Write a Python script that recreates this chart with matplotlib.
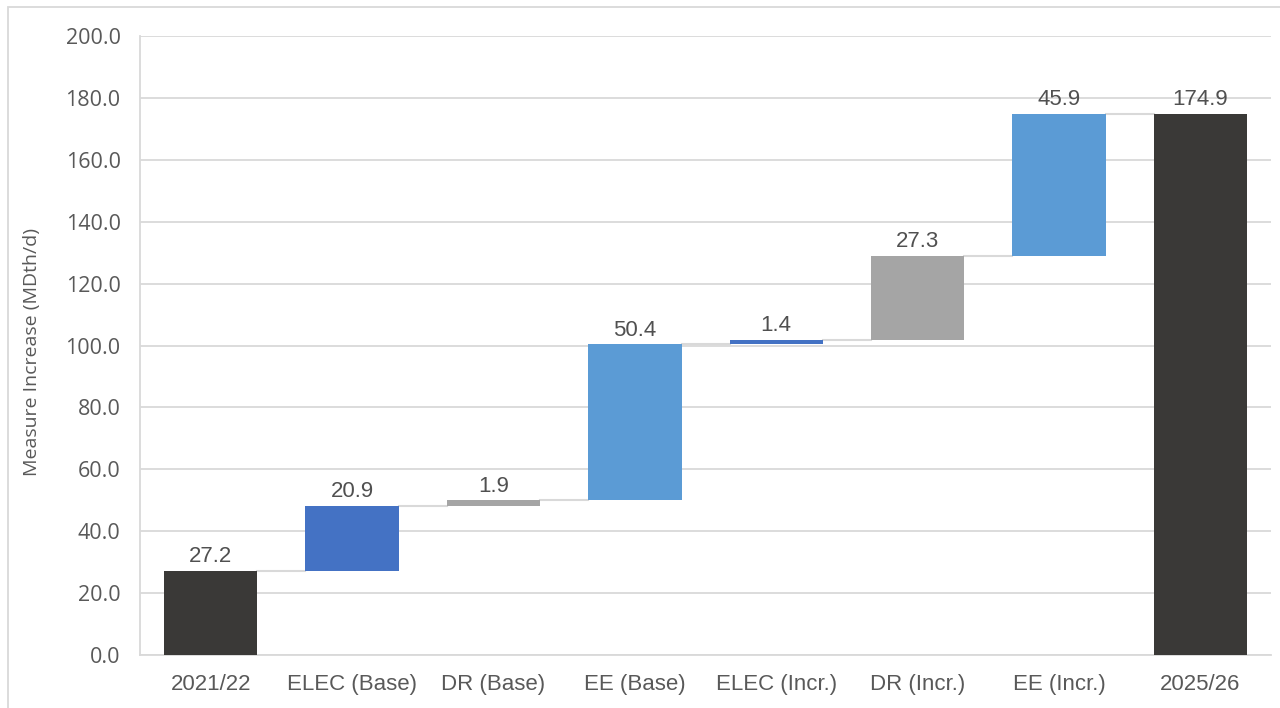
import numpy as np
import matplotlib
matplotlib.use("Agg")
import matplotlib.pyplot as plt
from matplotlib.patches import Rectangle

# waterfall steps: first and last are totals, the rest are increments
categories = ["2021/22", "ELEC (Base)", "DR (Base)", "EE (Base)",
              "ELEC (Incr.)", "DR (Incr.)", "EE (Incr.)", "2025/26"]
values = [27.2, 20.9, 1.9, 50.4, 1.4, 27.3, 45.9, 174.9]
is_total = [True, False, False, False, False, False, False, True]
colors = ["#3A3937", "#4472C4", "#A5A5A5", "#5B9BD5",
          "#4472C4", "#A5A5A5", "#5B9BD5", "#3A3937"]

yticks = np.arange(0, 201, 20)

fig = plt.figure(figsize=(12.8, 7.08), dpi=100)
ax = fig.add_axes([0.1094, 0.0749, 0.8836, 0.874])

# bottoms and tops of each bar
bottoms = []
tops = []
running = 0.0
for v, tot in zip(values, is_total):
    if tot:
        bottoms.append(0.0)
        tops.append(v)
        running = v
    else:
        bottoms.append(running)
        running += v
        tops.append(running)

x = np.arange(len(categories))
width = 0.66
ax.bar(x, np.array(tops) - np.array(bottoms), bottom=bottoms, width=width,
       color=colors, zorder=3)

# connectors between neighbouring bars
for i in range(len(x) - 1):
    ax.plot([x[i] + width / 2, x[i + 1] - width / 2], [tops[i], tops[i]],
            color="#D9D9D9", lw=1.5, zorder=2)

for i, v in enumerate(values):
    ax.text(x[i], tops[i] + 1.2, f"{v:.1f}", ha="center", va="bottom",
            fontsize=16, color="#505050", family="Liberation Sans", zorder=4)

ax.set_xlim(-0.5, len(x) - 0.5)
ax.set_ylim(0, 200)
ax.set_yticks(yticks)
ax.set_yticklabels([f"{t:.1f}" for t in yticks], fontsize=15.5,
                   color="#595959", family="Open Sans")
ax.set_xticks(x)
ax.set_xticklabels(categories, fontsize=16, color="#595959",
                   family="Liberation Sans")
ax.tick_params(axis="both", length=0)
ax.tick_params(axis="y", pad=14)
ax.tick_params(axis="x", pad=14)
ax.grid(axis="y", color="#D9D9D9", lw=1.3, zorder=0)
ax.set_axisbelow(True)
for s in ["top", "right"]:
    ax.spines[s].set_visible(False)
for s in ["left", "bottom"]:
    ax.spines[s].set_color("#D9D9D9")
    ax.spines[s].set_linewidth(1.3)

ax.set_ylabel("Measure Increase (MDth/d)", fontsize=14, color="#595959",
              family="Open Sans")
ax.yaxis.set_label_coords(-0.088, 0.49)

# outer frame of the chart area
fig.patches.append(Rectangle((8 / 1280, -0.05), 1.1, (708 - 7) / 708 + 0.05,
                             transform=fig.transFigure, fill=False,
                             edgecolor="#D9D9D9", lw=1.3))

fig.savefig("out.png", dpi=100)
